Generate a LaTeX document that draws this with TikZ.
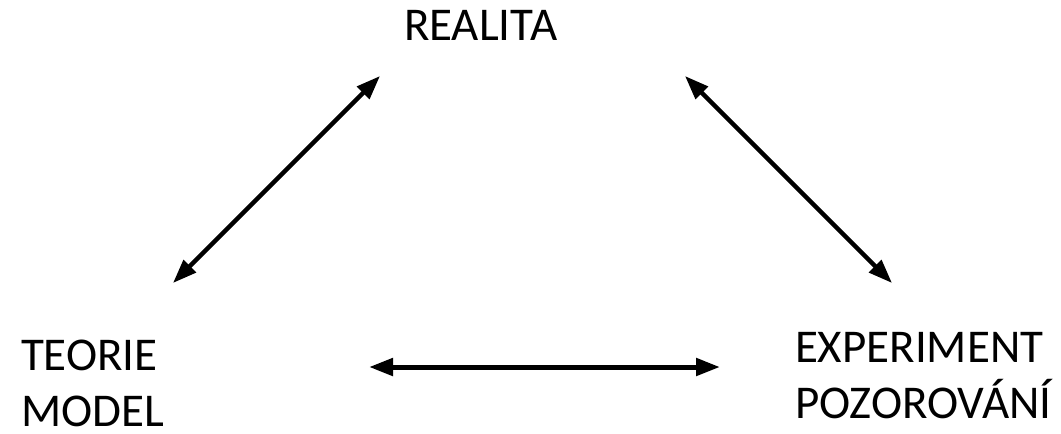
\documentclass[tikz,border=0pt]{standalone}
\usepackage{fontspec}
\setmainfont{Carlito}
\usetikzlibrary{arrows.meta}
\tikzset{
  lbl/.style={anchor=north west, inner sep=0pt, outer sep=0pt, align=left,
    font=\fontsize{47}{56}\selectfont},
  link/.style={line width=4.3pt, {Triangle[length=24pt,width=17pt]}-{Triangle[length=24pt,width=17pt]}}
}
\begin{document}
\begin{tikzpicture}[x=1pt,y=-1pt]
\useasboundingbox (0,0) rectangle (1061,434);
\node[lbl] (realita) at (404,10) {REALITA};
\node[lbl] (teorie) at (21,340) {TEORIE\\MODEL};
\node[lbl] (exper) at (795,332) {EXPERIMENT\\POZOROVÁNÍ};
\coordinate (rl) at (380,76);
\coordinate (tl) at (173,283);
\coordinate (rr) at (685,76);
\coordinate (er) at (892,283);
\coordinate (th) at (369,367);
\coordinate (eh) at (720,367);
\draw[link] (tl) -- (rl);
\draw[link] (rr) -- (er);
\draw[link, line width=5pt] (th) -- (eh);
\end{tikzpicture}
\end{document}
